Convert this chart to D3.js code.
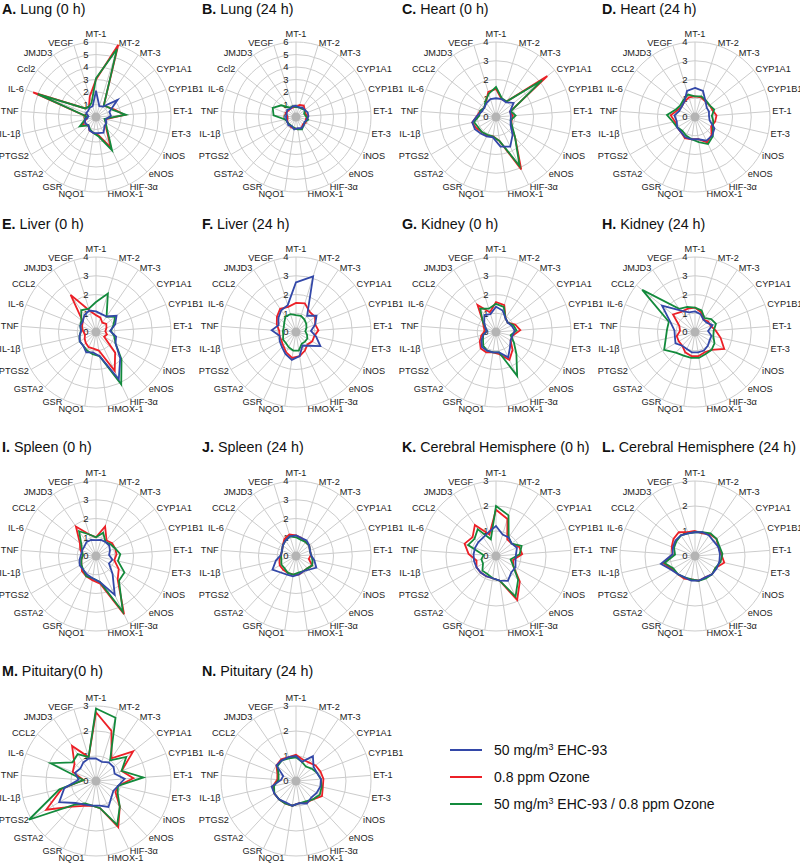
<!DOCTYPE html>
<html><head><meta charset="utf-8">
<script src="https://cdn.jsdelivr.net/npm/d3@7"></script>
<style>body{margin:0;background:#fff}svg{display:block;font-family:"Liberation Sans",Arial,Helvetica,sans-serif}</style>
</head><body><svg id="c" width="800" height="864"></svg>
<script>
const genes = ["MT-1","MT-2","MT-3","CYP1A1","CYP1B1","ET-1","ET-3","iNOS","eNOS","HIF-3α","HMOX-1","NQO1","GSR","GSTA2","PTGS2","IL-1β","TNF","IL-6","CCL2","JMJD3","VEGF"];
const seriesNames = ["50 mg/m3 EHC-93","0.8 ppm Ozone","50 mg/m3 EHC-93 / 0.8 ppm Ozone"];

const lung0Blue  = [2.1,0.9,1.0,2.2,1.15,1.2,0.8,0.95,1.0,1.4,1.3,1.3,1.2,0.9,1.0,0.9,0.6,0.85,0.8,0.9,0.9];
const lung0Red   = [3.0,6.05,1.1,1.25,1.6,2.3,0.8,0.9,1.2,2.7,1.5,1.3,1.2,0.9,1.3,0.8,0.8,5.4,1.1,1.0,1.7];
const lung0Green = [3.1,5.7,1.1,1.25,1.5,2.4,0.7,0.9,1.3,2.95,1.6,1.3,1.1,0.9,1.5,0.9,0.8,5.0,1.1,1.0,1.2];

const lung24Blue  = [0.9,0.8,0.9,0.9,1.0,1.0,0.9,0.8,0.9,1.0,0.9,1.0,0.8,0.9,0.8,0.8,0.8,0.8,0.9,0.8,0.9];
const lung24Red   = [0.8,1.0,1.1,0.9,0.8,0.9,0.8,0.9,0.8,1.0,1.0,0.9,0.9,0.8,0.8,0.7,0.7,0.9,0.8,0.8,0.8];
const lung24Green = [0.8,0.8,0.8,0.9,0.7,0.8,1.0,0.8,0.9,1.1,1.0,0.9,0.8,0.8,0.8,0.9,1.8,2.0,1.5,0.9,0.9];

const heart0Blue  = [1.0,1.0,0.95,1.2,0.8,0.8,0.8,0.9,1.3,1.75,1.6,1.1,1.15,1.2,1.3,1.3,1.0,0.8,0.8,0.9,1.0];
const heart0Red   = [1.5,1.0,1.0,3.5,0.8,0.9,0.85,0.95,1.5,3.1,1.3,1.05,1.1,1.1,1.2,1.3,1.0,0.9,0.8,0.95,1.4];
const heart0Green = [1.6,1.05,1.0,3.15,0.85,1.05,0.8,1.0,1.5,2.9,1.3,1.05,1.05,1.1,1.1,1.2,0.9,0.9,0.8,1.0,1.3];

const heart24Blue  = [1.55,1.45,1.0,0.8,0.8,0.75,0.8,1.2,1.35,1.4,1.2,1.2,1.2,1.1,1.1,1.0,1.1,0.9,0.9,1.0,1.45];
const heart24Red   = [1.1,1.1,1.0,1.0,1.0,1.15,1.1,1.0,1.3,1.5,1.2,1.2,1.25,1.1,1.1,1.1,1.3,1.0,0.9,1.0,1.1];
const heart24Green = [1.1,1.15,1.05,1.0,1.1,0.9,1.0,1.1,1.4,1.6,1.35,1.2,1.1,1.0,1.1,1.2,1.5,1.1,1.0,1.1,1.25];

const liver0Blue  = [1.1,1.0,1.0,1.4,1.1,0.75,1.1,1.2,1.9,2.8,1.3,1.1,1.2,1.0,1.0,0.9,0.8,0.9,0.9,1.1,1.2];
const liver0Red   = [0.9,0.8,0.6,0.7,0.6,0.5,0.6,0.5,1.5,2.3,1.0,0.9,0.9,0.8,0.7,0.6,0.7,0.8,0.9,2.4,1.2];
const liver0Green = [1.6,2.15,1.0,1.3,1.0,0.8,1.0,1.2,2.0,3.1,1.3,1.2,1.1,1.0,1.0,0.9,0.8,0.9,1.0,1.4,1.3];

const liver24Blue  = [2.65,3.1,1.05,1.4,1.1,0.8,1.1,1.5,1.0,0.8,1.3,1.5,1.3,1.1,1.0,0.9,1.3,1.0,1.2,1.4,1.5];
const liver24Red   = [1.55,1.6,1.3,1.3,1.1,1.2,1.0,1.0,0.9,1.1,1.3,1.4,1.2,1.0,0.9,0.9,0.9,1.1,1.3,1.5,1.4];
const liver24Green = [0.9,0.9,0.8,0.7,0.6,0.5,0.6,0.7,0.7,0.7,1.0,1.0,0.9,0.8,0.8,0.7,0.7,0.7,0.8,1.0,1.0];

const kidney0Blue  = [1.35,1.2,0.9,0.8,0.9,1.0,0.9,0.9,1.1,1.5,1.1,1.1,1.1,1.1,0.9,0.7,0.5,0.6,0.8,1.1,1.0];
const kidney0Red   = [1.6,1.5,0.9,0.8,1.1,1.3,0.9,0.9,1.3,1.65,1.2,1.1,1.2,1.2,1.0,0.8,0.6,0.7,0.9,1.75,1.1];
const kidney0Green = [1.5,1.4,0.9,0.8,1.0,1.1,0.8,1.1,1.6,2.6,1.1,1.1,1.1,1.0,0.8,0.7,0.5,0.6,0.9,1.5,1.3];

const kidney24Blue  = [1.1,1.0,0.8,0.8,1.0,0.7,0.9,0.9,1.0,1.1,1.1,1.1,1.0,1.0,1.2,1.1,1.1,1.4,2.25,1.4,1.1];
const kidney24Red   = [1.3,1.1,0.8,0.9,0.9,1.1,1.4,1.8,1.3,1.2,1.3,1.3,1.2,1.0,1.0,1.0,0.8,0.9,1.5,1.3,1.3];
const kidney24Green = [1.3,1.2,0.9,1.1,1.2,1.0,1.0,1.2,1.3,1.3,1.4,1.4,1.4,1.5,1.9,1.6,1.5,1.5,3.6,1.5,1.4];

const spleen0Blue  = [0.85,0.9,0.9,0.9,0.8,0.7,0.9,0.8,1.3,2.3,1.4,1.2,1.1,1.0,1.0,0.9,0.8,0.8,0.8,0.9,0.9];
const spleen0Red   = [1.0,1.65,1.0,1.1,1.1,1.1,1.0,1.4,1.7,3.45,1.5,1.3,1.2,1.1,0.9,0.8,0.7,0.9,1.1,1.9,1.2];
const spleen0Green = [1.0,1.3,0.9,1.0,1.1,1.3,1.2,1.75,1.8,3.3,1.4,1.2,1.2,1.0,0.9,0.8,0.7,0.8,1.0,1.6,1.2];

const spleen24Blue  = [1.1,1.0,1.0,0.9,0.8,0.8,1.0,1.25,1.0,0.9,1.0,1.1,1.1,1.2,1.45,1.1,0.8,0.8,0.9,1.0,1.1];
const spleen24Red   = [1.1,1.0,0.9,0.9,0.8,0.8,0.7,1.0,0.9,0.9,1.0,1.0,1.0,1.0,1.0,0.9,0.8,0.8,0.9,1.1,1.2];
const spleen24Green = [1.0,0.9,0.9,0.9,0.8,0.8,0.9,1.0,0.9,0.9,0.9,1.0,1.0,0.9,0.9,0.8,0.8,0.8,0.9,1.0,1.1];

const cereb0Blue  = [1.2,0.9,0.9,0.8,0.9,0.8,0.8,0.9,0.9,1.1,1.0,0.9,0.9,0.9,0.9,0.9,0.9,0.9,0.9,0.9,1.0];
const cereb0Red   = [1.85,1.55,0.8,0.8,1.0,1.05,0.7,0.8,1.4,1.95,1.0,0.9,0.9,0.9,0.9,0.8,1.1,1.35,1.2,1.5,0.9];
const cereb0Green = [2.0,1.7,0.9,0.8,1.1,0.95,0.6,0.8,1.3,1.8,1.0,0.9,0.8,0.8,0.6,0.6,0.5,1.2,1.1,1.3,0.7];

const cereb24Blue  = [0.95,1.0,1.0,0.95,1.0,1.0,1.0,1.0,1.0,0.95,1.0,1.0,0.95,1.0,1.1,1.4,0.9,0.95,1.0,1.0,0.95];
const cereb24Red   = [1.0,0.95,1.05,1.1,1.0,1.05,1.2,0.95,1.0,0.95,1.0,0.95,1.0,1.0,1.05,1.3,0.9,1.0,1.1,1.15,1.0];
const cereb24Green = [0.95,1.0,1.1,1.1,1.05,1.1,1.05,0.95,1.0,1.0,1.0,0.95,0.95,1.0,1.0,1.25,0.8,0.9,0.95,1.0,0.95];

const pit0Blue  = [0.9,0.8,0.9,0.9,0.8,1.15,0.9,0.8,0.9,1.15,1.0,1.0,1.05,1.2,1.7,1.3,0.7,0.9,0.8,0.9,0.95];
const pit0Red   = [2.75,2.1,1.1,1.9,1.1,1.5,0.9,0.9,1.4,2.05,1.1,1.0,1.1,1.4,2.3,1.4,0.5,1.0,1.1,1.7,1.0];
const pit0Green = [2.9,2.65,1.0,1.55,1.1,1.9,0.9,1.0,1.4,1.95,1.1,1.0,1.0,1.3,3.1,1.5,0.5,1.95,1.2,1.3,1.0];

const pit24Blue  = [1.0,0.8,1.2,0.9,0.9,1.0,1.0,0.95,0.9,1.0,0.9,1.0,0.95,1.0,1.0,1.0,0.6,0.55,1.0,1.0,1.0];
const pit24Red   = [1.05,0.9,0.9,1.0,1.05,1.1,1.1,1.2,1.0,0.95,0.9,1.0,1.0,1.0,1.0,0.95,0.75,0.8,1.0,1.05,1.0];
const pit24Green = [0.95,0.8,0.7,0.8,0.9,1.0,1.05,1.1,1.0,0.9,0.9,1.0,1.0,1.0,1.0,0.9,0.7,0.75,0.95,1.0,0.95];

const panelLetters = ["A","B","C","D","E","F","G","H","I","J","K","L","M","N"];
const panelTitles = ["Lung (0 h)","Lung (24 h)","Heart (0 h)","Heart (24 h)","Liver (0 h)","Liver (24 h)","Kidney (0 h)","Kidney (24 h)","Spleen (0 h)","Spleen (24 h)","Cerebral Hemisphere (0 h)","Cerebral Hemisphere (24 h)","Pituitary(0 h)","Pituitary (24 h)"];
const panelMax = [6,6,4,4,4,4,4,4,4,4,3,3,3,3];
const panelData = [
  [lung0Blue,lung0Red,lung0Green],[lung24Blue,lung24Red,lung24Green],
  [heart0Blue,heart0Red,heart0Green],[heart24Blue,heart24Red,heart24Green],
  [liver0Blue,liver0Red,liver0Green],[liver24Blue,liver24Red,liver24Green],
  [kidney0Blue,kidney0Red,kidney0Green],[kidney24Blue,kidney24Red,kidney24Green],
  [spleen0Blue,spleen0Red,spleen0Green],[spleen24Blue,spleen24Red,spleen24Green],
  [cereb0Blue,cereb0Red,cereb0Green],[cereb24Blue,cereb24Red,cereb24Green],
  [pit0Blue,pit0Red,pit0Green],[pit24Blue,pit24Red,pit24Green]
];

const colors = ["#3348a8","#ec2027","#138a3c"];
const drawOrder = [1,2,0];
const colX = [96,296,496,695];
const rowCY = [117,332,556,781];
const rowTitleY = [14,229,452,676];
const R = 75;
const LR = 77.5;
const N = genes.length;
const svg = d3.select("#c");

panelData.forEach((series, p) => {
  const col = p % 4, row = Math.floor(p / 4);
  const cx = colX[col], cy = rowCY[row];
  const tx = col * 200 + 2;
  const t = svg.append("text").attr("x", tx).attr("y", rowTitleY[row]).attr("font-size", 14.3).attr("fill", "#111");
  t.append("tspan").attr("font-weight", "bold").text(panelLetters[p] + ".");
  t.append("tspan").text(" " + panelTitles[p]);

  const g = svg.append("g").attr("transform", `translate(${cx},${cy})`);
  const rs = d3.scaleLinear().domain([0, panelMax[p]]).range([0, R]);
  const ang = d3.scaleLinear().domain([0, N]).range([0, 2 * Math.PI]);
  const ticks = d3.range(0, panelMax[p] + 1);
  g.selectAll("circle.ring").data(ticks.slice(1)).join("circle")
    .attr("r", d => rs(d)).attr("fill", "none").attr("stroke", "#cccccc").attr("stroke-width", 1);
  g.selectAll("line.sp").data(genes).join("line")
    .attr("x1", 0).attr("y1", 0)
    .attr("x2", (d, i) => R * Math.sin(ang(i))).attr("y2", (d, i) => -R * Math.cos(ang(i)))
    .attr("stroke", "#cccccc").attr("stroke-width", 1);
  g.append("circle").attr("r", 4.5).attr("fill", "#b4b4b4");
  g.selectAll("text.lab").data(genes).join("text")
    .attr("font-size", 9.2).attr("fill", "#222")
    .attr("x", (d, i) => LR * Math.sin(ang(i)))
    .attr("y", (d, i) => -LR * Math.cos(ang(i)) + (i === 0 ? -6 : 0))
    .attr("dy", "0.35em")
    .attr("text-anchor", (d, i) => { const s = Math.sin(ang(i)); return Math.abs(s) < 0.05 ? "middle" : (s > 0 ? "start" : "end"); })
    .text(d => (p < 2 && d === "CCL2") ? "Ccl2" : d);
  g.selectAll("text.tk").data(ticks).join("text")
    .attr("font-size", 9.5).attr("fill", "#222").attr("text-anchor", "middle")
    .attr("x", -10).attr("y", d => -rs(d)).attr("dy", "0.35em").text(d => d);
  const line = d3.lineRadial().angle((d, i) => ang(i)).radius(d => rs(d)).curve(d3.curveLinearClosed);
  drawOrder.forEach(s => {
    g.append("path").attr("d", line(series[s])).attr("fill", "none")
      .attr("stroke", colors[s]).attr("stroke-width", 1.8).attr("stroke-linejoin", "miter");
  });
});

const legY = [750, 777, 804];
seriesNames.forEach((name, i) => {
  svg.append("line").attr("x1", 450).attr("x2", 482).attr("y1", legY[i]).attr("y2", legY[i])
    .attr("stroke", colors[i]).attr("stroke-width", 2);
  const t = svg.append("text").attr("x", 494).attr("y", legY[i] + 5).attr("font-size", 14).attr("fill", "#111");
  if (name.includes("m3")) {
    const parts = name.split("m3");
    t.append("tspan").text(parts[0] + "m");
    t.append("tspan").attr("font-size", 9).attr("dy", -5).text("3");
    t.append("tspan").attr("dy", 5).text(parts.slice(1).join("m3"));
  } else t.text(name);
});
</script></body></html>
